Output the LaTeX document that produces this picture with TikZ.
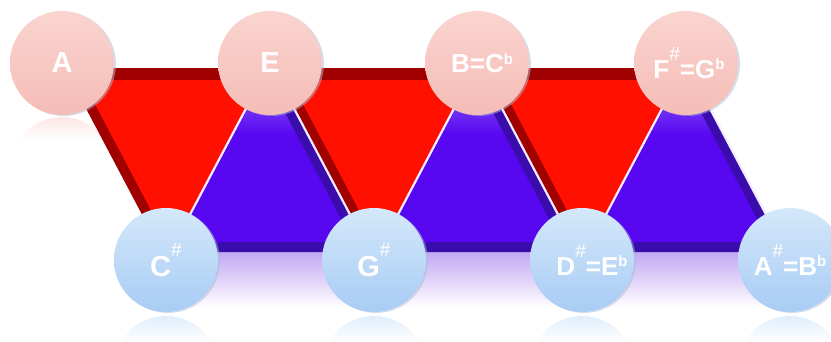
\documentclass[tikz,border=0pt]{standalone}
\usepackage{fontspec}
\setmainfont{Liberation Sans}
\usetikzlibrary{calc,shadows}

\definecolor{redmain}{HTML}{FF1000}
\definecolor{reddark}{HTML}{A00000}
\definecolor{bluemain}{HTML}{5808F0}
\definecolor{bluehi}{HTML}{8C5EF7}
\definecolor{bluedark}{HTML}{3A0CAC}
\definecolor{pinktop}{HTML}{FAD4D0}
\definecolor{pinkbot}{HTML}{F5BCB6}
\definecolor{skytop}{HTML}{D4E8FA}
\definecolor{skybot}{HTML}{A8CCF4}
\definecolor{rimshadow}{HTML}{AEBCD6}
\definecolor{lavender}{HTML}{C2A8F2}
\definecolor{seamcol}{HTML}{F2EEFF}

% blue face: light near the apex, plain further down
\pgfdeclareverticalshading{bluefade}{100bp}{color(0bp)=(bluemain); color(57bp)=(bluemain); color(73bp)=(bluehi); color(100bp)=(bluehi)}

% sharp and flat marks for the note names
\newcommand\sh{\raisebox{0.68em}{\fontsize{19}{19}\selectfont\mdseries\#}}
\newcommand\fl{\raisebox{0.33em}{\fontsize{15}{15}\selectfont b}}

\tikzset{
  ball/.style={circle, minimum size=104pt, inner sep=0pt, text=white,
    drop shadow={shadow xshift=2pt, shadow yshift=-1pt, fill=rimshadow, opacity=0.5}},
  topball/.style={ball, top color=pinktop, bottom color=pinkbot},
  lowball/.style={ball, top color=skytop, bottom color=skybot},
  bigtxt/.style={font=\bfseries\fontsize{29}{29}\selectfont},
  smalltxt/.style={font=\bfseries\fontsize{26}{26}\selectfont},
  seam/.style={seamcol, line width=2.2pt},
}

\begin{document}
\begin{tikzpicture}[x=1pt, y=-1pt]
\useasboundingbox (0,0) rectangle (831,341);

% soft reflection below the strip
\shade[top color=lavender, bottom color=white] (172,252) rectangle (786,308);

% mirrored balls
\foreach \cx in {166,374,582,790}{
  \begin{scope}
    \clip (\cx,368) circle (52);
    \shade[top color=skytop!80, bottom color=white] (\cx-52,315) rectangle (\cx+52,341);
  \end{scope}
}
\begin{scope}
  \clip (62,169) circle (52);
  \shade[top color=pinktop!55, bottom color=white] (10,117) rectangle (114,140);
\end{scope}

% red triangles pointing down, bevel on top and left
\foreach \i in {0,1,2}{
  \pgfmathsetmacro\o{208*\i}
  \fill[reddark] (64.6+\o,68) -- (267.4+\o,68) -- (166+\o,260) -- cycle;
  \fill[redmain] (82.3+\o,80) -- (261.0+\o,80) -- (171.6+\o,249.3) -- cycle;
}

% blue triangles pointing up, bevel on right and bottom
\foreach \i in {0,1,2}{
  \pgfmathsetmacro\o{208*\i}
  \fill[bluedark] (270+\o,63) -- (170.2+\o,252) -- (369.8+\o,252) -- cycle;
  \shade[shading=bluefade] (264.4+\o,73.7) -- (175.5+\o,242) -- (353.2+\o,242) -- cycle;
}

% light seams between neighbouring triangles
\foreach \i in {0,1,2}{
  \pgfmathsetmacro\o{208*\i}
  \draw[seam] (267.4+\o,68) -- (170.2+\o,252);
  \draw[seam] (272.6+\o,68) -- (369.8+\o,252);
}

% note balls
\node[topball, bigtxt]   (A)  at (62,63)  {A};
\node[topball, bigtxt]   (E)  at (270,63) {E};
\node[topball, smalltxt] (BC) at (477,63) {\hspace*{10pt}B=C\fl};
\node[topball, smalltxt] (FG) at (686,63) {\hspace*{6pt}F\sh=G\fl};
\node[lowball, bigtxt]   (Cs) at (166,260) {C\sh};
\node[lowball, bigtxt]   (Gs) at (374,260) {G\sh};
\node[lowball, smalltxt] (DE) at (582,260) {\hspace*{20pt}D\sh=E\fl};
\node[lowball, smalltxt] (AB) at (790,260) {A\sh=B\fl};
\end{tikzpicture}
\end{document}
